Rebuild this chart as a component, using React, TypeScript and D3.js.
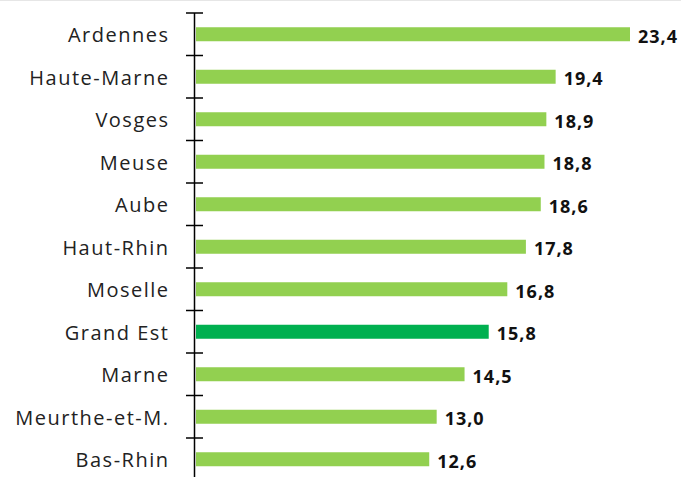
import React from "react";
import * as d3 from "d3";

const categories = ["Ardennes", "Haute-Marne", "Vosges", "Meuse", "Aube", "Haut-Rhin", "Moselle", "Grand Est", "Marne", "Meurthe-et-M.", "Bas-Rhin"];
const values = [23.4, 19.4, 18.9, 18.8, 18.6, 17.8, 16.8, 15.8, 14.5, 13.0, 12.6];
const highlight = "Grand Est";

export default function App() {
  const W = 681, H = 477;
  const x = d3.scaleLinear().domain([0, 23.4]).range([195, 630]);
  const y = d3.scaleBand().domain(categories).range([13, 480.5]).paddingInner(0).paddingOuter(0);
  const barH = 14;
  const fmt = (v: number) => v.toFixed(1).replace(".", ",");
  const axisX = 194.5;
  const ticks = categories.map((c) => y(c)!).concat([y.range()[1]]);
  return (
    <svg width={W} height={H} style={{ position: "absolute", left: 0, top: 0, background: "#fff" }}>
      <line x1={0} x2={W} y1={0.5} y2={0.5} stroke="#e6e6e6" />
      {categories.map((c, i) => {
        const cy = y(c)! + y.bandwidth() / 2;
        return (
          <g key={c}>
            <rect x={x(0) + 1} y={cy - barH / 2} width={x(values[i]) - x(0) - 1} height={barH} fill={c === highlight ? "#00b050" : "#92d050"} />
            <text x={169.5} y={cy + 1} dy="0.35em" textAnchor="end" fontFamily="'Open Sans', sans-serif" fontSize={20} letterSpacing={1.5} fill="#222">{c}</text>
            <text x={x(values[i]) + 8} y={cy + 2} dy="0.35em" fontFamily="'Open Sans', sans-serif" fontWeight="bold" fontSize={18} letterSpacing={1} fill="#111">{fmt(values[i])}</text>
          </g>
        );
      })}
      <line x1={axisX} x2={axisX} y1={13} y2={H} stroke="#000" strokeWidth={1.5} />
      {ticks.map((t, i) => (
        <line key={i} x1={186} x2={203} y1={t} y2={t} stroke="#000" strokeWidth={1.5} />
      ))}
    </svg>
  );
}
